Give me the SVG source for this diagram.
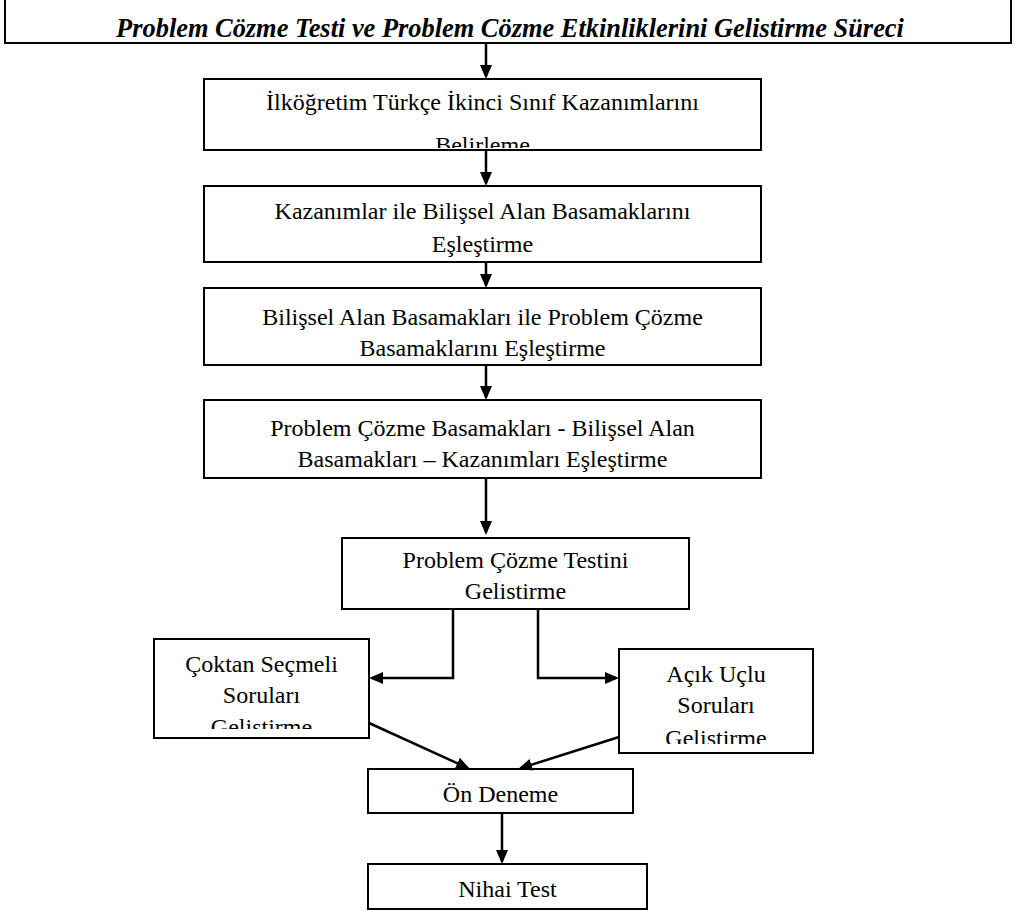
<svg xmlns="http://www.w3.org/2000/svg" width="1015" height="911" viewBox="0 0 1015 911">
<style>
.box{fill:#fff;stroke:#000;stroke-width:2}
.t{font-family:"Liberation Serif","Times New Roman",serif;font-size:24px;fill:#000;text-anchor:middle}
.title{font-family:"Liberation Serif","Times New Roman",serif;font-size:26.4px;font-weight:bold;font-style:italic;fill:#000;text-anchor:middle}
.c{fill:none;stroke:#000;stroke-width:2.5}
</style>
<defs>
<marker id="ah" markerUnits="userSpaceOnUse" markerWidth="14" markerHeight="12" refX="11" refY="6" orient="auto">
<path d="M0,0 L14,6 L0,12 z" fill="#000"/>
</marker>
<clipPath id="clip1"><rect x="204" y="79" width="557" height="69"/></clipPath>
<clipPath id="clip6"><rect x="154" y="639" width="215" height="90"/></clipPath>
<clipPath id="clip7"><rect x="619" y="649" width="194" height="95"/></clipPath>
</defs>
<rect width="1015" height="911" fill="#fff"/>
<g id="title">
<rect class="box" x="5" y="-5" width="1006" height="48"/>
<text class="title" x="510" y="37">Problem Cözme Testi ve Problem Cözme Etkinliklerini Gelistirme Süreci</text>
</g>
<g id="n1">
<rect class="box" x="204" y="79" width="557" height="71"/>
<g clip-path="url(#clip1)">
<text class="t" x="482.5" y="110">İlköğretim Türkçe İkinci Sınıf Kazanımlarını</text>
<text class="t" x="482.5" y="153">Belirleme</text>
</g>
</g>
<g id="n2">
<rect class="box" x="204" y="186" width="557" height="76"/>
<text class="t" x="482.5" y="219">Kazanımlar ile Bilişsel Alan Basamaklarını</text>
<text class="t" x="482.5" y="252">Eşleştirme</text>
</g>
<g id="n3">
<rect class="box" x="204" y="288" width="557" height="77"/>
<text class="t" x="482.5" y="325">Bilişsel Alan Basamakları ile Problem Çözme</text>
<text class="t" x="482.5" y="356">Basamaklarını Eşleştirme</text>
</g>
<g id="n4">
<rect class="box" x="204" y="400" width="557" height="78"/>
<text class="t" x="482.5" y="436">Problem Çözme Basamakları - Bilişsel Alan</text>
<text class="t" x="482.5" y="467">Basamakları – Kazanımları Eşleştirme</text>
</g>
<g id="n5">
<rect class="box" x="342" y="538" width="347" height="71"/>
<text class="t" x="515.5" y="568">Problem Çözme Testini</text>
<text class="t" x="515.5" y="599">Gelistirme</text>
</g>
<g id="n6">
<rect class="box" x="154" y="639" width="215" height="99"/>
<g clip-path="url(#clip6)">
<text class="t" x="261.5" y="672">Çoktan Seçmeli</text>
<text class="t" x="261.5" y="703">Soruları</text>
<text class="t" x="261.5" y="735">Gelistirme</text>
</g>
</g>
<g id="n7">
<rect class="box" x="619" y="649" width="194" height="104"/>
<g clip-path="url(#clip7)">
<text class="t" x="716" y="682">Açık Uçlu</text>
<text class="t" x="716" y="713">Soruları</text>
<text class="t" x="716" y="746">Gelistirme</text>
</g>
</g>
<g id="n8">
<rect class="box" x="368" y="769" width="265" height="44"/>
<text class="t" x="500.5" y="802">Ön Deneme</text>
</g>
<g id="n9">
<rect class="box" x="368" y="864" width="279" height="45"/>
<text class="t" x="507.5" y="897">Nihai Test</text>
</g>
<g id="connectors">
<line class="c" x1="486" y1="43" x2="486" y2="76" marker-end="url(#ah)"/>
<line class="c" x1="486" y1="150" x2="486" y2="183" marker-end="url(#ah)"/>
<line class="c" x1="486" y1="262" x2="486" y2="285" marker-end="url(#ah)"/>
<line class="c" x1="486" y1="365" x2="486" y2="397" marker-end="url(#ah)"/>
<line class="c" x1="486" y1="478" x2="486" y2="532" marker-end="url(#ah)"/>
<polyline class="c" points="453,609 453,678 372,678" marker-end="url(#ah)"/>
<polyline class="c" points="538,609 538,678 616,678" marker-end="url(#ah)"/>
<line class="c" x1="369" y1="723" x2="467.3" y2="767.8" marker-end="url(#ah)"/>
<line class="c" x1="619" y1="737" x2="520.9" y2="768.1" marker-end="url(#ah)"/>
<line class="c" x1="502" y1="813" x2="502" y2="861" marker-end="url(#ah)"/>
</g>
</svg>
